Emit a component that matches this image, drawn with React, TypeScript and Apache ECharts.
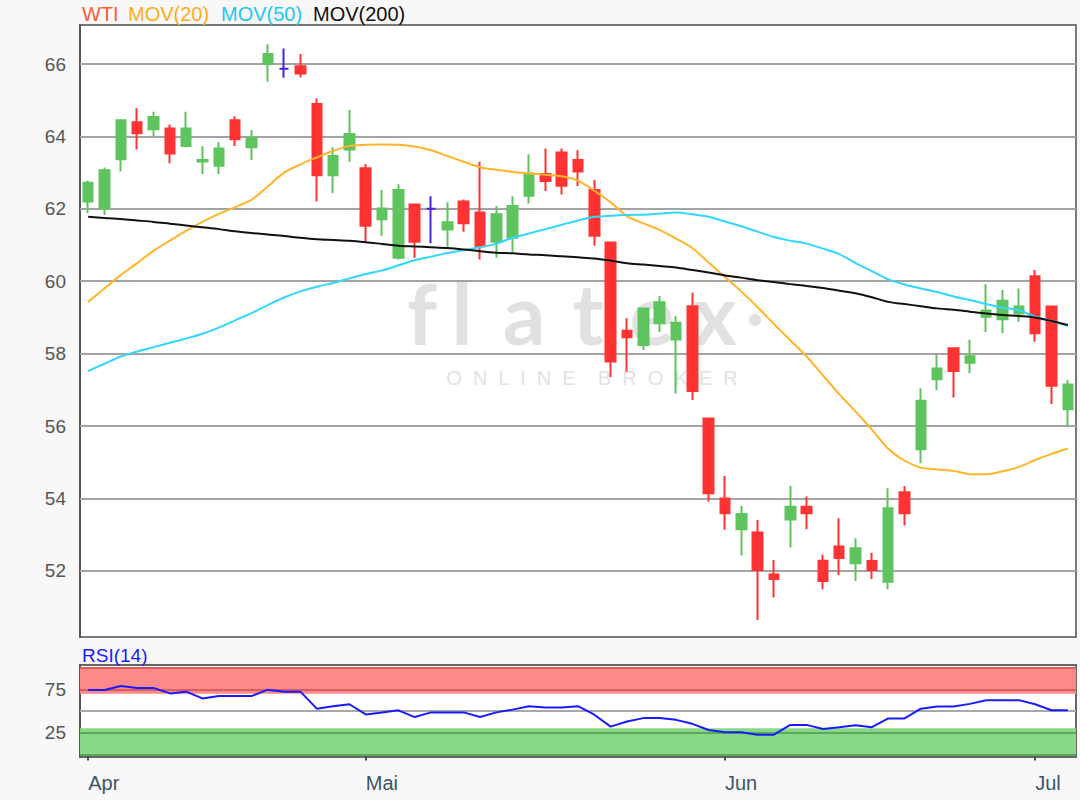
import React, { useEffect, useRef } from "react";
import * as echarts from "echarts";

// Trading days shown (category axis)
const dates = [
  "2019-04-01", "2019-04-02", "2019-04-03", "2019-04-04", "2019-04-05", "2019-04-08", "2019-04-09",
  "2019-04-10", "2019-04-11", "2019-04-12", "2019-04-15", "2019-04-16", "2019-04-17", "2019-04-18",
  "2019-04-23", "2019-04-24", "2019-04-25",
  "2019-05-01", "2019-05-02", "2019-05-03", "2019-05-06", "2019-05-07", "2019-05-08", "2019-05-09",
  "2019-05-10", "2019-05-13", "2019-05-14", "2019-05-15", "2019-05-16", "2019-05-17", "2019-05-20",
  "2019-05-21", "2019-05-22", "2019-05-23", "2019-05-24", "2019-05-28", "2019-05-29", "2019-05-30",
  "2019-05-31",
  "2019-06-03", "2019-06-04", "2019-06-05", "2019-06-06", "2019-06-07", "2019-06-10", "2019-06-11",
  "2019-06-12", "2019-06-13", "2019-06-14", "2019-06-17", "2019-06-18", "2019-06-19", "2019-06-20",
  "2019-06-21", "2019-06-24", "2019-06-25", "2019-06-26", "2019-06-27",
  "2019-07-01", "2019-07-02", "2019-07-03",
];

// [open, close, low, high]
const ohlc: number[][] = [
  [62.20, 62.72, 61.88, 62.78],
  [62.01, 63.07, 61.83, 63.14],
  [63.37, 64.45, 63.03, 64.47],
  [64.39, 64.09, 63.64, 64.78],
  [64.20, 64.54, 64.01, 64.68],
  [64.22, 63.53, 63.26, 64.33],
  [63.74, 64.22, 63.70, 64.68],
  [63.31, 63.35, 62.96, 63.73],
  [63.19, 63.67, 62.96, 63.84],
  [64.45, 63.92, 63.74, 64.56],
  [63.70, 63.96, 63.35, 64.18],
  [66.00, 66.28, 65.51, 66.55],
  [65.87, 65.87, 65.62, 66.43],
  [65.94, 65.74, 65.63, 66.28],
  [64.90, 62.93, 62.20, 65.05],
  [62.93, 63.46, 62.43, 63.70],
  [63.64, 64.07, 63.30, 64.73],
  [63.12, 61.53, 61.09, 63.24],
  [61.71, 62.01, 61.26, 62.52],
  [60.65, 62.52, 60.60, 62.68],
  [62.12, 61.09, 60.65, 62.12],
  [62.00, 62.00, 61.05, 62.35],
  [61.43, 61.63, 60.95, 62.18],
  [62.20, 61.60, 61.37, 62.26],
  [61.90, 60.97, 60.60, 63.30],
  [61.09, 61.85, 60.65, 62.08],
  [61.20, 62.08, 60.81, 62.35],
  [62.36, 62.98, 62.15, 63.51],
  [62.96, 62.77, 62.49, 63.67],
  [63.56, 62.64, 62.40, 63.67],
  [63.35, 63.03, 62.63, 63.62],
  [62.52, 61.26, 60.98, 62.80],
  [61.07, 57.78, 57.35, 61.07],
  [58.63, 58.45, 57.50, 58.98],
  [58.24, 59.25, 58.10, 59.25],
  [58.84, 59.42, 58.60, 59.59],
  [58.39, 58.85, 56.90, 59.04],
  [59.31, 56.97, 56.72, 59.68],
  [56.21, 54.14, 53.91, 56.21],
  [54.00, 53.59, 53.13, 54.62],
  [53.15, 53.57, 52.42, 53.79],
  [53.06, 52.02, 50.64, 53.40],
  [51.90, 51.77, 51.26, 52.30],
  [53.42, 53.77, 52.64, 54.34],
  [53.77, 53.59, 53.15, 54.05],
  [52.28, 51.72, 51.49, 52.44],
  [52.67, 52.35, 51.88, 53.45],
  [52.21, 52.62, 51.72, 52.90],
  [52.27, 52.02, 51.77, 52.50],
  [51.70, 53.73, 51.49, 54.28],
  [54.17, 53.59, 53.25, 54.34],
  [55.36, 56.70, 54.97, 57.04],
  [57.29, 57.59, 56.99, 57.96],
  [58.15, 57.52, 56.79, 58.15],
  [57.75, 57.93, 57.46, 58.38],
  [59.02, 59.19, 58.60, 59.92],
  [58.95, 59.46, 58.56, 59.76],
  [59.11, 59.30, 58.88, 59.80],
  [60.14, 58.56, 58.33, 60.31],
  [59.30, 57.11, 56.61, 59.30],
  [56.46, 57.15, 56.00, 57.27],
];

const mov20 = [
  59.43, 59.80, 60.17, 60.50, 60.84, 61.12, 61.39, 61.64, 61.86, 62.05,
  62.25, 62.62, 63.00, 63.23, 63.42, 63.60, 63.74, 63.77, 63.78, 63.77,
  63.72, 63.62, 63.46, 63.30, 63.15, 63.08, 63.02, 62.98, 62.94, 62.90,
  62.78, 62.50, 62.18, 61.80, 61.60, 61.42, 61.18, 60.92, 60.52, 60.12,
  59.72, 59.28, 58.82, 58.37, 57.92, 57.40, 56.88, 56.40, 55.90, 55.37,
  55.04, 54.85, 54.80, 54.76, 54.67, 54.67, 54.75, 54.87, 55.06, 55.23,
  55.38,
];

const mov50 = [
  57.52, 57.72, 57.92, 58.06, 58.18, 58.30, 58.42, 58.55, 58.72, 58.92,
  59.12, 59.34, 59.55, 59.72, 59.85, 59.95, 60.08, 60.20, 60.30, 60.44,
  60.58, 60.68, 60.78, 60.86, 60.94, 61.04, 61.20, 61.32, 61.44, 61.56,
  61.68, 61.78, 61.81, 61.83, 61.84, 61.87, 61.90, 61.85, 61.78, 61.65,
  61.52, 61.37, 61.22, 61.12, 61.04, 60.90, 60.75, 60.50, 60.28, 60.05,
  59.91, 59.80, 59.70, 59.58, 59.48, 59.37, 59.27, 59.20, 59.02, 58.90,
  58.76,
];

const mov200 = [
  61.78, 61.75, 61.72, 61.68, 61.64, 61.59, 61.54, 61.49, 61.44, 61.38,
  61.33, 61.29, 61.25, 61.20, 61.16, 61.14, 61.12, 61.08, 61.03, 60.98,
  60.96, 60.94, 60.92, 60.88, 60.83, 60.79, 60.77, 60.74, 60.72, 60.69,
  60.66, 60.63, 60.57, 60.50, 60.46, 60.42, 60.38, 60.31, 60.24, 60.16,
  60.10, 60.03, 59.98, 59.92, 59.87, 59.81, 59.74, 59.67, 59.56, 59.43,
  59.37, 59.31, 59.25, 59.21, 59.16, 59.11, 59.07, 59.04, 59.00, 58.90,
  58.79,
];

const rsi14 = [
  74.2, 74.2, 78.9, 76.6, 76.6, 70.3, 72.3, 64.5, 67.2, 67.2,
  67.2, 74.6, 72.3, 72.3, 52.7, 55.5, 57.8, 46.1, 48.4, 50.8,
  43.0, 48.4, 48.4, 48.4, 43.0, 48.4, 51.6, 55.5, 53.9, 53.9,
  55.5, 45.7, 32.0, 37.9, 41.8, 41.8, 39.8, 35.2, 28.1, 25.4,
  25.4, 22.7, 22.7, 34.0, 34.0, 29.3, 31.3, 33.6, 31.3, 41.4,
  41.4, 52.7, 55.1, 55.1, 58.2, 62.5, 62.5, 62.5, 57.8, 50.8,
  50.8,
];

const priceTicks = [52, 54, 56, 58, 60, 62, 64, 66];
const rsiTicks = [25, 75];
const rsiLevels = [0, 25, 50, 75, 100];
const overbought = [70, 100];
const oversold = [0, 30];
const monthNames: Record<string, string> = { "04": "Apr", "05": "Mai", "06": "Jun", "07": "Jul" };

const FONT = '"Liberation Sans", Arial, Helvetica, sans-serif';
const WM_FONT = 'bold 84px Lato, "Open Sans", sans-serif';
const WM_COLOR = "#e1e1e1";

const isMonthStart = (i: number) =>
  i === 0 || dates[i].slice(5, 7) !== dates[i - 1].slice(5, 7);

export default function App() {
  const ref = useRef<HTMLDivElement>(null);

  useEffect(() => {
    if (!ref.current) return;
    const chart = echarts.init(ref.current, undefined, { renderer: "svg" });

    const levelColor = (v: number) =>
      v >= 75 ? "#d46060" : v <= 25 ? "#5aa85a" : "#a8a8a8";

    const wmLetters: [string, number][] = [
      ["f", 422], ["l", 462], ["a", 524], ["t", 588], ["e", 652], ["x", 715],
    ];

    const option: any = {
      animation: false,
      backgroundColor: "#f8f8f8",
      grid: [
        { left: 80, top: 25, width: 996, height: 612, show: true, backgroundColor: "#ffffff", borderColor: "#777777", borderWidth: 2 },
        { left: 80, top: 665, width: 996, height: 92, show: true, backgroundColor: "#ffffff", borderColor: "#666666", borderWidth: 2 },
      ],
      xAxis: [
        {
          type: "category", gridIndex: 0, data: dates, boundaryGap: true,
          axisLine: { show: false }, axisTick: { show: false }, axisLabel: { show: false }, splitLine: { show: false },
        },
        {
          type: "category", gridIndex: 1, data: dates, boundaryGap: true,
          axisLine: { show: true, lineStyle: { color: "#555555", width: 2 } },
          axisTick: {
            show: true, alignWithLabel: true, length: 6,
            interval: (i: number) => isMonthStart(i),
            lineStyle: { color: "#3d5468", width: 2 },
          },
          axisLabel: {
            interval: (i: number) => isMonthStart(i),
            formatter: (v: string) => monthNames[v.slice(5, 7)],
            align: "left", color: "#3d5468", fontSize: 20, margin: 16, fontFamily: FONT,
          },
          splitLine: { show: false },
        },
      ],
      yAxis: [
        {
          type: "value", gridIndex: 0, min: 50.17, max: 67.08,
          axisLine: { show: true, lineStyle: { color: "#555555", width: 2 } },
          axisTick: { show: false }, splitLine: { show: false },
          axisLabel: { customValues: priceTicks, color: "#555555", fontSize: 19, margin: 14, fontFamily: FONT },
        },
        {
          type: "value", gridIndex: 1, min: -3, max: 103,
          axisLine: { show: true, lineStyle: { color: "#555555", width: 2 } },
          axisTick: { show: false }, splitLine: { show: false },
          axisLabel: { customValues: rsiTicks, color: "#555555", fontSize: 19, margin: 14, fontFamily: FONT },
        },
      ],
      graphic: [
        { type: "text", x: 82, y: 14, z: 10, style: { text: "WTI", fill: "#ff5a36", font: `20px ${FONT}`, textVerticalAlign: "middle" } },
        { type: "text", x: 128, y: 14, z: 10, style: { text: "MOV(20)", fill: "#ffac1c", font: `20px ${FONT}`, textVerticalAlign: "middle" } },
        { type: "text", x: 221, y: 14, z: 10, style: { text: "MOV(50)", fill: "#1ec8f5", font: `20px ${FONT}`, textVerticalAlign: "middle" } },
        { type: "text", x: 313, y: 14, z: 10, style: { text: "MOV(200)", fill: "#111111", font: `20px ${FONT}`, textVerticalAlign: "middle" } },
        { type: "text", x: 82, y: 655, z: 10, style: { text: "RSI(14)", fill: "#1a1aff", font: `19px ${FONT}`, textVerticalAlign: "middle" } },
        ...wmLetters.map(([ch, x]) => ({
          type: "text", x, y: 312, z: 0.5, silent: true,
          style: { text: ch, fill: WM_COLOR, font: WM_FONT, textAlign: "center", textVerticalAlign: "middle" },
        })),
        { type: "circle", shape: { cx: 755, cy: 320, r: 6 }, z: 0.5, silent: true, style: { fill: WM_COLOR } },
        { type: "text", x: 592, y: 378, z: 0.5, silent: true, style: { text: "O  N  L  I  N  E    B  R  O  K  E  R", fill: "#e2e2e2", font: `20px ${FONT}`, textAlign: "center", textVerticalAlign: "middle" } },
      ],
      series: [
        {
          type: "candlestick", name: "WTI", xAxisIndex: 0, yAxisIndex: 0, z: 2,
          data: ohlc, barWidth: 10,
          itemStyle: {
            color: "#5ec45e", color0: "#ff3333",
            borderColor: "#5ec45e", borderColor0: "#ff3333", borderColorDoji: "#4a22dd",
            borderWidth: 2,
          },
          markLine: {
            silent: true, symbol: "none", z: 1, label: { show: false },
            lineStyle: { color: "#a4a4a4", width: 2, type: "solid" },
            data: priceTicks.map((v) => ({ yAxis: v })),
          },
        },
        {
          type: "line", name: "MOV(20)", xAxisIndex: 0, yAxisIndex: 0, z: 3, data: mov20,
          showSymbol: false, smooth: 0.3, lineStyle: { color: "#ffb42a", width: 2 },
        },
        {
          type: "line", name: "MOV(50)", xAxisIndex: 0, yAxisIndex: 0, z: 3, data: mov50,
          showSymbol: false, smooth: 0.3, lineStyle: { color: "#33d6ff", width: 2 },
        },
        {
          type: "line", name: "MOV(200)", xAxisIndex: 0, yAxisIndex: 0, z: 3, data: mov200,
          showSymbol: false, smooth: 0.3, lineStyle: { color: "#111111", width: 2 },
        },
        {
          type: "line", name: "RSI(14)", xAxisIndex: 1, yAxisIndex: 1, z: 3, data: rsi14,
          showSymbol: false, lineStyle: { color: "#1a1aff", width: 2 },
          markArea: {
            silent: true, z: 1,
            data: [
              [{ yAxis: overbought[0], itemStyle: { color: "#ff8888" } }, { yAxis: overbought[1] }],
              [{ yAxis: oversold[0], itemStyle: { color: "#88d888" } }, { yAxis: oversold[1] }],
            ],
          },
          markLine: {
            silent: true, symbol: "none", z: 1.5, label: { show: false },
            data: rsiLevels.map((v) => ({ yAxis: v, lineStyle: { color: levelColor(v), width: 2, type: "solid" } })),
          },
        },
      ],
    };

    chart.setOption(option);
    return () => chart.dispose();
  }, []);

  return (
    <div style={{ position: "fixed", left: 0, top: 0, width: 1080, height: 800, background: "#f8f8f8" }}>
      <div ref={ref} style={{ width: 1080, height: 800 }} />
    </div>
  );
}
